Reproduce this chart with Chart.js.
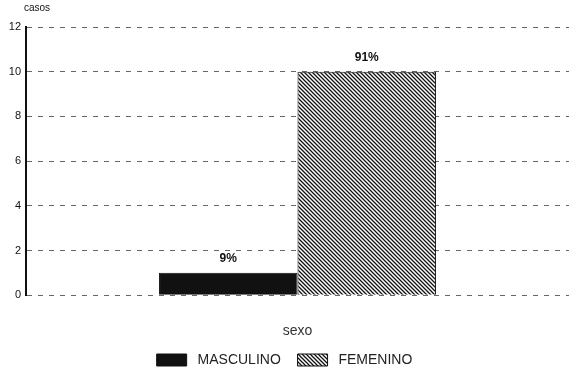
<!DOCTYPE html>
<html lang="es">
<head>
<meta charset="UTF-8" />
<title>casos por sexo</title>
<script src="https://cdn.jsdelivr.net/npm/chart.js"></script>
<style>
  html, body { margin: 0; padding: 0; background: #fff; }
  .wrap { width: 572px; height: 377px; }
</style>
</head>
<body>
<div class="wrap"><canvas id="grafico"></canvas></div>
<script>
// datos
const categorias = ['MASCULINO', 'FEMENINO'];
const casos = [1, 10];
const porcentajes = ['9%', '91%'];
const ticksY = [0, 2, 4, 6, 8, 10, 12];

// trama rayada para FEMENINO
function crearRayado() {
  const c = document.createElement('canvas');
  c.width = 4; c.height = 4;
  const g = c.getContext('2d');
  g.fillStyle = '#fff';
  g.fillRect(0, 0, 4, 4);
  g.strokeStyle = '#111';
  g.lineWidth = 1.3;
  g.beginPath();
  g.moveTo(-1, -1); g.lineTo(5, 5);
  g.moveTo(-1, 3); g.lineTo(1, 5);
  g.moveTo(3, -1); g.lineTo(5, 1);
  g.stroke();
  return g.createPattern(c, 'repeat');
}
const rayado = crearRayado();

// etiquetas de porcentaje y titulo "casos"
const etiquetas = {
  id: 'etiquetas',
  afterDatasetsDraw(chart) {
    const ctx = chart.ctx;
    ctx.save();
    ctx.fillStyle = '#111';
    ctx.font = 'bold 12px "Liberation Sans", Arial, sans-serif';
    ctx.textAlign = 'center';
    ctx.textBaseline = 'bottom';
    chart.data.datasets.forEach((ds, i) => {
      const bar = chart.getDatasetMeta(i).data[0];
      ctx.fillText(porcentajes[i], bar.x, bar.y - 8);
    });
    ctx.font = '10px "Liberation Sans", Arial, sans-serif';
    ctx.textAlign = 'left';
    ctx.fillText('casos', 24, 13);
    ctx.restore();
  }
};

new Chart(document.getElementById('grafico'), {
  type: 'bar',
  data: {
    labels: [''],
    datasets: categorias.map((nombre, i) => ({
      // espacios para separar el texto de la caja como en el original
      label: i === 0 ? ' ' + nombre + '  ' : ' ' + nombre,
      data: [casos[i]],
      backgroundColor: i === 0 ? '#111' : rayado,
      borderColor: '#111',
      borderWidth: 1,
      categoryPercentage: 0.51,
      barPercentage: 1
    }))
  },
  options: {
    responsive: true,
    maintainAspectRatio: false,
    animation: false,
    layout: { padding: { top: 27, right: 3, left: 0, bottom: 0 } },
    plugins: {
      legend: {
        position: 'bottom',
        labels: {
          color: '#222',
          boxWidth: 30,
          boxHeight: 12,
          padding: 9,
          font: { size: 14, family: '"Liberation Sans", Arial, sans-serif' }
        }
      },
      tooltip: { enabled: false }
    },
    scales: {
      x: {
        ticks: { display: false },
        grid: { display: false },
        border: { display: false },
        title: {
          display: true,
          text: 'sexo',
          color: '#333',
          font: { size: 14, family: '"Liberation Sans", Arial, sans-serif' },
          padding: { top: 20, bottom: 4 }
        }
      },
      y: {
        min: 0,
        max: 12,
        afterBuildTicks(axis) { axis.ticks = ticksY.map(v => ({ value: v })); },
        afterFit(axis) { axis.width = 26; },
        ticks: {
          color: '#111',
          padding: 5,
          font: { size: 11, family: '"Liberation Sans", Arial, sans-serif' }
        },
        grid: {
          color: '#666',
          lineWidth: 1,
          drawTicks: false
        },
        border: { display: true, color: '#111', width: 2, dash: [5, 6] }
      }
    }
  },
  plugins: [etiquetas]
});
</script>
</body>
</html>
